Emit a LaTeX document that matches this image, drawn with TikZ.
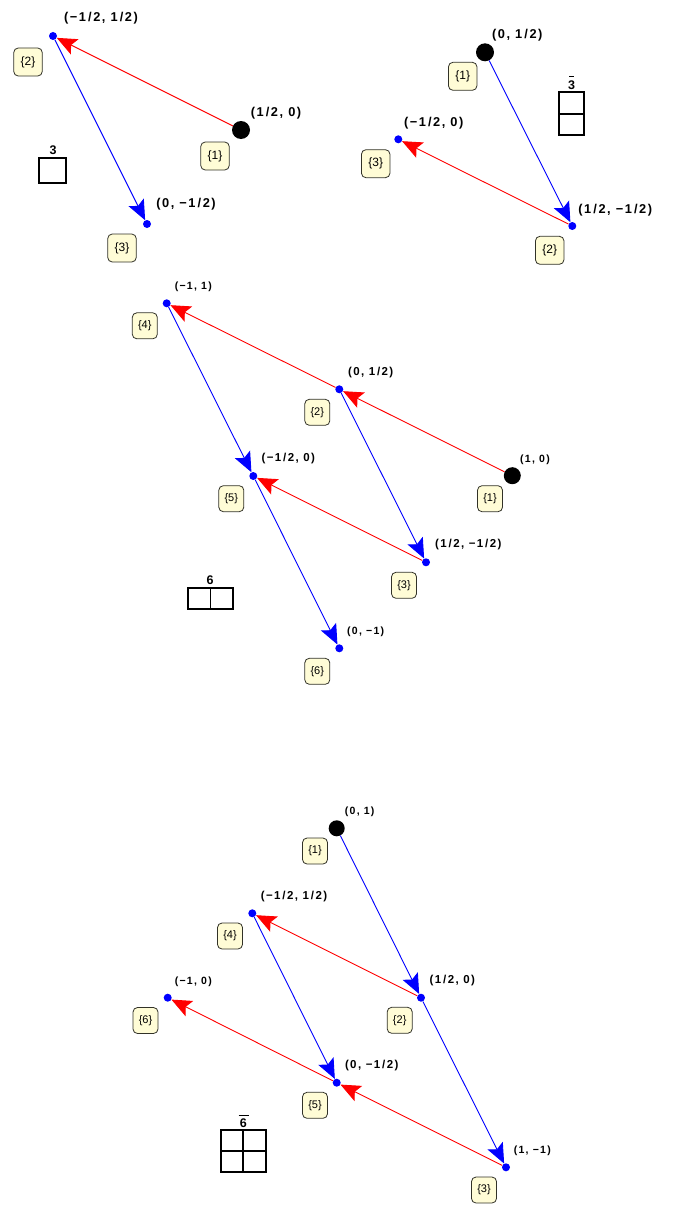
\documentclass[tikz,border=0pt]{standalone}
\usepackage{fontspec}
\setmainfont{Liberation Sans}
\newfontfamily\lblfont{Liberation Sans}[LetterSpace=12]
\usetikzlibrary{arrows.meta}
\definecolor{boxfill}{RGB}{255,252,214}
\definecolor{boxline}{RGB}{50,50,40}
\tikzset{
  bdot/.style={circle,fill=blue,inner sep=0pt,minimum size=8pt},
  kdot/.style={circle,fill=black,inner sep=0pt,minimum size=#1},
  kdot/.default=17pt,
  numbox/.style={draw=boxline,fill=boxfill,rounded corners=4.5pt,minimum width=25pt,minimum height=26pt,inner sep=0pt,line width=0.8pt,font=\fontsize{11}{13}\selectfont},
  bignumbox/.style={numbox,minimum width=28.5pt,minimum height=28pt,font=\fontsize{12}{14}\selectfont},
  toplbl/.style={inner sep=0pt,font=\lblfont\bfseries\fontsize{12.8}{14}\selectfont},
  fraclbl/.style={inner sep=0pt,font=\lblfont\bfseries\fontsize{11.5}{13}\selectfont},
  intlbl/.style={inner sep=0pt,font=\lblfont\bfseries\fontsize{10.5}{12}\selectfont},
  tipstyle/.style={-{Stealth[length=20pt,width=17pt,inset=4pt]}},
  redarr/.style={draw=red,line width=0.9pt,tipstyle},
  bluearr/.style={draw=blue,line width=0.9pt,tipstyle},
  yd/.style={draw=black,line width=1.8pt},
  ydbar/.style={draw=black,line width=1pt},
  ydlbl/.style={inner sep=0pt,font=\bfseries\fontsize{12.5}{14}\selectfont}
}
\begin{document}
\begin{tikzpicture}[x=1pt,y=-1pt]
\useasboundingbox (0,0) rectangle (688,1207);
% ---------- top left: 3 ----------
\node[kdot=18pt] (a1) at (241,130) {};
\node[bdot] (a2) at (53,36) {};
\node[bdot] (a3) at (147,224) {};
\node[toplbl] (la1) at (276,113) {(1\,/2, 0)};
\node[toplbl] (la2) at (101,18) {(−1\,/2, 1\,/2)};
\node[toplbl] (la3) at (186,204) {(0, −1\,/2)};
\node[bignumbox] (na1) at (215,156) {\{1\}};
\node[bignumbox] (na2) at (28,62) {\{2\}};
\node[bignumbox] (na3) at (122,248) {\{3\}};
\draw[redarr] (a1) -- (a2);
\draw[bluearr] (a2) -- (a3);
\draw[yd] (39.3,158.3) rectangle (66,182.7);
\node[ydlbl] (ya) at (53,150) {3};
% ---------- top right: 3bar ----------
\node[kdot=18pt] (b1) at (485,52.3) {};
\node[bdot] (b2) at (572.3,226) {};
\node[bdot] (b3) at (398.3,139.3) {};
\node[toplbl] (lb1) at (517.3,35.3) {(0, 1\,/2)};
\node[toplbl] (lb2) at (615.3,210) {(1\,/2, −1\,/2)};
\node[toplbl] (lb3) at (433.7,123) {(−1\,/2, 0)};
\node[bignumbox] (nb1) at (462.7,76.3) {\{1\}};
\node[bignumbox] (nb2) at (549.7,250.3) {\{2\}};
\node[bignumbox] (nb3) at (375.7,163.7) {\{3\}};
\draw[bluearr] (b1) -- (b2);
\draw[redarr] (b2) -- (b3);
\draw[yd] (559,91.7) rectangle (584.3,135);
\draw[yd] (559,114.3) -- (584.3,114.3);
\node[ydlbl] (yb) at (571.5,85.5) {3};
\draw[ydbar] (569,76) -- (574,76);
% ---------- middle: 6 ----------
\node[kdot=17pt] (c1) at (512.3,475.7) {};
\node[bdot] (c2) at (339.3,389.3) {};
\node[bdot] (c3) at (426,562.3) {};
\node[bdot] (c4) at (166.7,303.3) {};
\node[bdot] (c5) at (253.3,476) {};
\node[bdot] (c6) at (339.3,648.3) {};
\node[intlbl] (lc1) at (535,460) {(1, 0)};
\node[fraclbl] (lc2) at (370.7,372.7) {(0, 1\,/2)};
\node[fraclbl] (lc3) at (468.3,545) {(1\,/2, −1\,/2)};
\node[intlbl] (lc4) at (193.3,287) {(−1, 1)};
\node[fraclbl] (lc5) at (288.3,458.3) {(−1\,/2, 0)};
\node[intlbl] (lc6) at (365.7,632) {(0, −1)};
\node[numbox] (nc1) at (490,498.7) {\{1\}};
\node[numbox] (nc2) at (317.3,412.3) {\{2\}};
\node[numbox] (nc3) at (404,585.3) {\{3\}};
\node[numbox] (nc4) at (144.8,325.8) {\{4\}};
\node[numbox] (nc5) at (231.3,498.7) {\{5\}};
\node[numbox] (nc6) at (317.3,671.3) {\{6\}};
\draw[redarr] (c1) -- (c2);
\draw[redarr] (c2) -- (c4);
\draw[redarr] (c3) -- (c5);
\draw[bluearr] (c4) -- (c5);
\draw[bluearr] (c5) -- (c6);
\draw[bluearr] (c2) -- (c3);
\draw[yd] (187.7,587.7) rectangle (233.3,609);
\draw[yd] (210.5,587.7) -- (210.5,609);
\node[ydlbl] (yc) at (210,580) {6};
% ---------- bottom: 6bar ----------
\node[kdot=16pt] (d1) at (336.7,828.3) {};
\node[bdot] (d2) at (421,997.7) {};
\node[bdot] (d3) at (506,1167.3) {};
\node[bdot] (d4) at (252.3,913.3) {};
\node[bdot] (d5) at (336.7,1082.7) {};
\node[bdot] (d6) at (167.7,997.7) {};
\node[intlbl] (ld1) at (359.7,811.7) {(0, 1)};
\node[fraclbl] (ld2) at (452.3,980.3) {(1\,/2, 0)};
\node[intlbl] (ld3) at (532.3,1151) {(1, −1)};
\node[fraclbl] (ld4) at (294,896.3) {(−1\,/2, 1\,/2)};
\node[fraclbl] (ld5) at (371.7,1065.3) {(0, −1\,/2)};
\node[intlbl] (ld6) at (193.3,981.7) {(−1, 0)};
\node[numbox] (nd1) at (315,851) {\{1\}};
\node[numbox] (nd2) at (399.7,1020.3) {\{2\}};
\node[numbox] (nd3) at (484,1190) {\{3\}};
\node[numbox] (nd4) at (230,936) {\{4\}};
\node[numbox] (nd5) at (315,1105.3) {\{5\}};
\node[numbox] (nd6) at (145.5,1020.5) {\{6\}};
\draw[bluearr] (d1) -- (d2);
\draw[bluearr] (d2) -- (d3);
\draw[bluearr] (d4) -- (d5);
\draw[redarr] (d2) -- (d4);
\draw[redarr] (d5) -- (d6);
\draw[redarr] (d3) -- (d5);
\draw[yd] (220.7,1130) rectangle (265.7,1171.7);
\draw[yd] (243.2,1130) -- (243.2,1171.7);
\draw[yd] (220.7,1151) -- (265.7,1151);
\node[ydlbl] (yd) at (243.3,1123.5) {6};
\draw[ydbar] (238.5,1115) -- (248.5,1115);
\end{tikzpicture}
\end{document}
